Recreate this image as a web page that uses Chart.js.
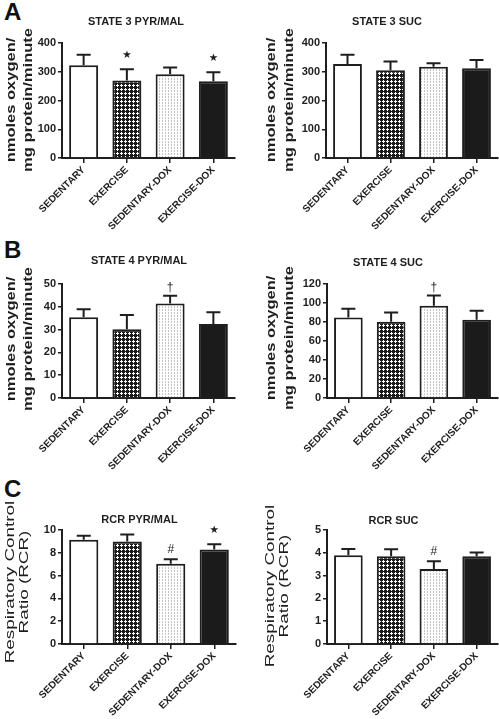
<!DOCTYPE html>
<html><head><meta charset="utf-8">
<script src="https://cdn.jsdelivr.net/npm/chart.js@4"></script>
<style>
html,body{margin:0;padding:0;background:#fff;width:499px;height:719px;overflow:hidden;position:relative}
canvas{position:absolute}
.lt{position:absolute;font:bold 24px "Liberation Sans",Arial,sans-serif;line-height:24px;color:#111;left:4px}
</style></head><body>
<div class="lt" style="top:0px">A</div>
<div class="lt" style="top:238px">B</div>
<div class="lt" style="top:477px">C</div>
<canvas id="c1" width="250" height="240" style="left:0;top:0"></canvas>
<canvas id="c2" width="249" height="240" style="left:250px;top:0"></canvas>
<canvas id="c3" width="250" height="240" style="left:0;top:240px"></canvas>
<canvas id="c4" width="249" height="240" style="left:250px;top:240px"></canvas>
<canvas id="c5" width="250" height="239" style="left:0;top:480px"></canvas>
<canvas id="c6" width="249" height="239" style="left:250px;top:480px"></canvas>
<script>
// ---- data ----
const categories = ['SEDENTARY', 'EXERCISE', 'SEDENTARY-DOX', 'EXERCISE-DOX'];

const state3PyrMal = [323, 270, 291, 267];
const state3PyrMalErr = [36, 39, 24, 31];
const state3PyrMalMarks = ['', '★', '', '★'];

const state3Suc = [327, 305, 317, 312];
const state3SucErr = [32, 31, 13, 29];
const state3SucMarks = ['', '', '', ''];

const state4PyrMal = [35.4, 30.2, 41.4, 32.5];
const state4PyrMalErr = [3.5, 6.2, 3.4, 5.1];
const state4PyrMalMarks = ['', '', '†', ''];

const state4Suc = [84.8, 80.2, 97.1, 82.3];
const state4SucErr = [9.2, 9.8, 10.9, 9.5];
const state4SucMarks = ['', '', '†', ''];

const rcrPyrMal = [9.15, 9.0, 7.03, 8.28];
const rcrPyrMalErr = [0.35, 0.6, 0.4, 0.47];
const rcrPyrMalMarks = ['', '', '#', '★'];

const rcrSuc = [3.89, 3.85, 3.29, 3.85];
const rcrSucErr = [0.28, 0.31, 0.34, 0.16];
const rcrSucMarks = ['', '', '#', ''];

const oxygenTitle = ['nmoles oxygen/', 'mg protein/minute'];
const rcrTitle = ['Respiratory Control', 'Ratio (RCR)'];

// ---- styles ----
const INK = '#1e1e1e';
const FONT = '"Liberation Sans", Arial, sans-serif';

function crossPattern() {
  const c = document.createElement('canvas'); c.width = 4; c.height = 4;
  const g = c.getContext('2d');
  g.fillStyle = '#1a1a1a'; g.fillRect(0, 0, 4, 4);
  g.fillStyle = '#ffffff';
  [[1,0],[0,1],[1,1],[2,1],[1,2]].forEach(p => g.fillRect(p[0], p[1], 1, 1));
  return g.createPattern(c, 'repeat');
}
function dotPattern() {
  const c = document.createElement('canvas'); c.width = 3; c.height = 3;
  const g = c.getContext('2d');
  g.fillStyle = '#ffffff'; g.fillRect(0, 0, 3, 3);
  g.fillStyle = '#c4c4c4'; g.fillRect(0, 0, 1, 2);
  return g.createPattern(c, 'repeat');
}
const fills = ['#ffffff', crossPattern(), dotPattern(), '#1b1b1b'];

function stretchedText(ctx, t, x, y, rot, sx, sy) {
  ctx.save();
  ctx.translate(x, y);
  if (rot) ctx.rotate(rot);
  ctx.scale(sx, sy);
  ctx.fillText(t, 0, 0);
  ctx.restore();
}

const extras = {
  id: 'extras',
  afterDatasetsDraw(chart, args, o) {
    const ctx = chart.ctx, ys = chart.scales.y;
    const meta = chart.getDatasetMeta(0);
    ctx.save();
    ctx.strokeStyle = INK; ctx.lineWidth = 2;
    meta.data.forEach((el, i) => {
      const top = ys.getPixelForValue(o.values[i] + o.errors[i]);
      ctx.beginPath();
      ctx.moveTo(el.x, el.y); ctx.lineTo(el.x, top);
      ctx.moveTo(el.x - 7, top); ctx.lineTo(el.x + 7, top);
      ctx.stroke();
      const m = o.marks[i];
      if (m) {
        ctx.fillStyle = INK; ctx.textAlign = 'center'; ctx.textBaseline = 'middle';
        if (m === '★') { ctx.font = '10.5px "DejaVu Sans"'; ctx.fillText(m, el.x, top - 14); }
        else if (m === '†') { ctx.font = '12px ' + FONT; ctx.fillText(m, el.x, top - 8); }
        else { ctx.font = '12px ' + FONT; ctx.fillText(m, el.x, top - 10); }
      }
    });
    // title
    ctx.fillStyle = INK; ctx.textAlign = 'center'; ctx.textBaseline = 'middle';
    ctx.font = 'bold 10px ' + FONT;
    stretchedText(ctx, o.title, o.titleX, o.titleY, 0, 1.1, 1);
    // y title
    ctx.font = o.yt.font;
    o.ytLines.forEach((t, k) => {
      stretchedText(ctx, t, o.ytX[k], o.ytY, -Math.PI / 2, o.yt.sx, o.yt.sy);
    });
    ctx.restore();
  }
};

function panel(id, values, errors, marks, yMax, yStep, title, geo, ytLines, yt) {
  const cv = document.getElementById(id);
  const W = cv.width, H = cv.height;
  new Chart(cv, {
    type: 'bar',
    data: {
      labels: categories,
      datasets: [{
        data: values,
        backgroundColor: fills,
        borderColor: INK,
        borderWidth: 2,
        borderSkipped: 'bottom',
        barPercentage: 0.67,
        categoryPercentage: 1
      }]
    },
    options: {
      responsive: false, animation: false, devicePixelRatio: 1,
      layout: { padding: { left: 0, top: geo.top, right: W - geo.right, bottom: 0 } },
      plugins: {
        legend: { display: false }, tooltip: { enabled: false },
        extras: { values, errors, marks, title, titleX: geo.tx, titleY: geo.ty,
                  ytLines, ytX: geo.ytX, ytY: geo.ytY, yt }
      },
      scales: {
        x: {
          afterFit: s => { s.height = H - geo.bottom; },
          grid: { display: true, drawOnChartArea: false, offset: false, tickLength: 5, color: INK, lineWidth: 1.5 },
          border: { display: true, color: INK, width: 2 },
          ticks: { color: INK, font: { family: FONT, size: 10, weight: 'bold' }, minRotation: 45, maxRotation: 45, autoSkip: false, padding: 1 }
        },
        y: {
          min: 0, max: yMax,
          afterFit: s => { s.width = geo.left; },
          grid: { display: true, drawOnChartArea: false, tickLength: 4, color: INK, lineWidth: 1.5 },
          border: { display: true, color: INK, width: 2 },
          ticks: { stepSize: yStep, color: INK, font: { family: FONT, size: 11, weight: 'bold' }, padding: 2 }
        }
      }
    },
    plugins: [extras]
  });
}

const boldT = { font: 'bold 15px ' + FONT, sx: 1.1, sy: 0.88 };
const regT = { font: '16px ' + FONT, sx: 1.18, sy: 0.82 };

panel('c1', state3PyrMal, state3PyrMalErr, state3PyrMalMarks, 400, 100, 'STATE 3 PYR/MAL',
  { left: 62, right: 235, top: 43, bottom: 158, tx: 136, ty: 22, ytX: [11, 28], ytY: 100 }, oxygenTitle, boldT);
panel('c2', state3Suc, state3SucErr, state3SucMarks, 400, 100, 'STATE 3 SUC',
  { left: 76, right: 248, top: 43, bottom: 158, tx: 137, ty: 22, ytX: [21, 39], ytY: 100 }, oxygenTitle, boldT);
panel('c3', state4PyrMal, state4PyrMalErr, state4PyrMalMarks, 50, 10, 'STATE 4 PYR/MAL',
  { left: 62, right: 235, top: 44, bottom: 158, tx: 139, ty: 21.5, ytX: [11, 28], ytY: 99 }, oxygenTitle, boldT);
panel('c4', state4Suc, state4SucErr, state4SucMarks, 120, 20, 'STATE 4 SUC',
  { left: 77, right: 248, top: 44, bottom: 158, tx: 138, ty: 23, ytX: [21, 39], ytY: 98 }, oxygenTitle, boldT);
panel('c5', rcrPyrMal, rcrPyrMalErr, rcrPyrMalMarks, 10, 2, 'RCR PYR/MAL',
  { left: 62, right: 236, top: 50, bottom: 164, tx: 139.5, ty: 40, ytX: [10, 24], ytY: 102 }, rcrTitle, regT);
panel('c6', rcrSuc, rcrSucErr, rcrSucMarks, 5, 1, 'RCR SUC',
  { left: 77, right: 248, top: 50, bottom: 164, tx: 143.5, ty: 41.5, ytX: [20, 34], ytY: 106 }, rcrTitle, regT);
</script>
</body></html>
